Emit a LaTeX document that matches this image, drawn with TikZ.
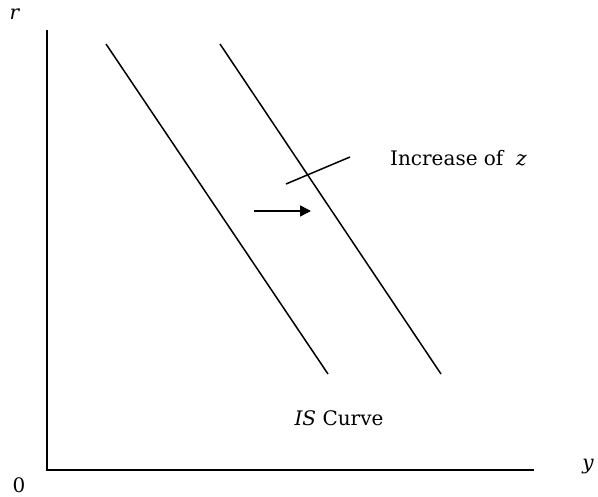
\documentclass[tikz,border=0pt]{standalone}
\usepackage{fontspec}
\setmainfont{DejaVu Serif}
\usetikzlibrary{arrows.meta}
\begin{document}
\begin{tikzpicture}[x=1pt,y=-1pt,
  line/.style={line width=1.5pt},
  lbl/.style={inner sep=0pt,font=\fontsize{20}{24}\selectfont}]
\useasboundingbox (0,0) rectangle (598,497);
% axes
\coordinate (top) at (47,30);
\coordinate (orig) at (47,470);
\coordinate (right) at (534,470);
\draw[line] (top) -- (orig) -- (right);
% IS curves
\coordinate (a1) at (106,44);
\coordinate (a2) at (328,374);
\coordinate (b1) at (220,44);
\coordinate (b2) at (441,374);
\draw[line] (a1) -- (a2);
\draw[line] (b1) -- (b2);
% tick
\coordinate (t1) at (286,184);
\coordinate (t2) at (350,157);
\draw[line] (t1) -- (t2);
% arrow
\coordinate (s1) at (254,211);
\coordinate (s2) at (311,211);
\draw[line,-{Triangle[length=11pt,width=11pt]}] (s1) -- (s2);
% labels
\node[lbl] (r) at (15,14) {\textit{r}};
\node[lbl] (zero) at (19,485) {0};
\node[lbl] (y) at (588,467) {\textit{y}};
\node[lbl,anchor=base west] (inc) at (390,166) {Increase of \ \textit{z}};
\node[lbl,anchor=base] (is) at (339,426) {\textit{IS} Curve};
\end{tikzpicture}
\end{document}
